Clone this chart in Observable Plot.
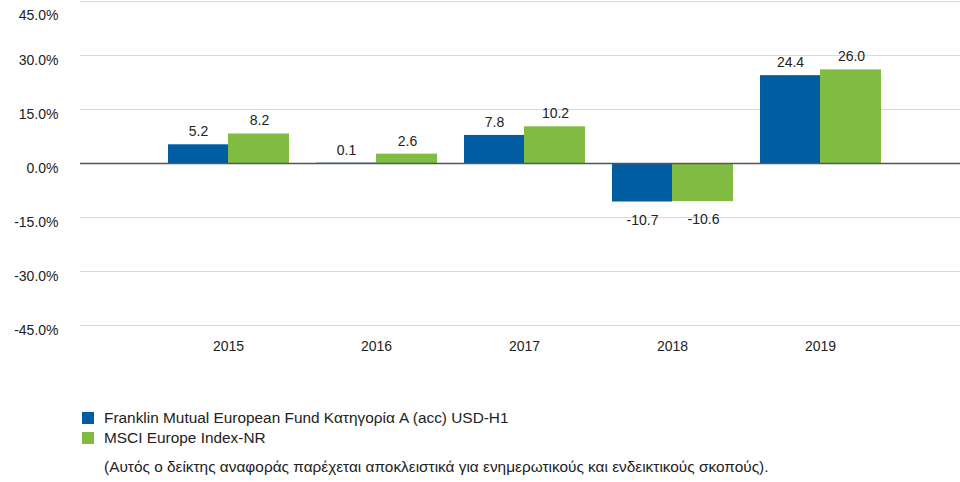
<!DOCTYPE html>
<html>
<head>
<meta charset="utf-8">
<script src="https://cdn.jsdelivr.net/npm/d3@7"></script>
<script src="https://cdn.jsdelivr.net/npm/@observablehq/plot@0.6"></script>
<style>
  html, body { margin: 0; padding: 0; background: #fff; }
  body { width: 960px; height: 482px; overflow: hidden; font-family: "Liberation Sans", Arial, sans-serif; color: #222; }
  #chart svg { display: block; }
  .legend { position: relative; margin-left: 82px; margin-top: 12px; font-size: 15.4px; }
  .row { display: flex; align-items: center; height: 20px; }
  .sw { width: 12px; height: 12px; margin-right: 10px; flex: none; }
  .note { margin-left: 22px; margin-top: 10px; font-size: 15.4px; }
</style>
</head>
<body>
<div id="chart"></div>
<div class="legend" id="legend"></div>
<script>
const years = ["2015", "2016", "2017", "2018", "2019"];
const fundValues = [5.2, 0.1, 7.8, -10.7, 24.4];
const indexValues = [8.2, 2.6, 10.2, -10.6, 26.0];
const seriesNames = ["Franklin Mutual European Fund Κατηγορία A (acc) USD-H1", "MSCI Europe Index-NR"];
const seriesColors = ["#005DA2", "#80BC41"];
const yTicks = [-45, -30, -15, 0, 15, 30];
const yTopTick = [45];
const note = "(Αυτός ο δείκτης αναφοράς παρέχεται αποκλειστικά για ενημερωτικούς και ενδεικτικούς σκοπούς).";

const fund = years.map((y, i) => ({year: y, value: fundValues[i]}));
const index = years.map((y, i) => ({year: y, value: indexValues[i]}));
const fmt = d => d.toFixed(1) + "%";
const pos = d => d.value >= 0;
const neg = d => d.value < 0;
const lbl = d => d.value.toFixed(1);

const chart = Plot.plot({
  width: 960,
  height: 396,
  marginTop: 1,
  marginBottom: 71,
  marginLeft: 80,
  marginRight: 0,
  style: {fontFamily: "Liberation Sans, Arial, sans-serif", fontSize: "14px", color: "#222"},
  x: {domain: years, range: [154, 894], padding: 0, axis: null, label: null},
  y: {domain: [-45, 45], axis: null, label: null},
  marks: [
    Plot.ruleY([-45, -30, -15, 15, 30, 45], {stroke: "#d9d9d9", strokeWidth: 1}),
    Plot.barY(fund, {x: "year", y: "value", fill: seriesColors[0], insetLeft: 14, insetRight: 74}),
    Plot.barY(index, {x: "year", y: "value", fill: seriesColors[1], insetLeft: 74, insetRight: 13}),
    Plot.ruleY([0], {stroke: "#555", strokeWidth: 1.3}),
    Plot.text(fund, {filter: pos, x: "year", y: "value", text: lbl, dx: -30, dy: -13, fill: "#222", fontSize: 14}),
    Plot.text(fund, {filter: neg, x: "year", y: "value", text: lbl, dx: -30, dy: 18, fill: "#222", fontSize: 14}),
    Plot.text(index, {filter: pos, x: "year", y: "value", text: lbl, dx: 31, dy: -13, fill: "#222", fontSize: 14}),
    Plot.text(index, {filter: neg, x: "year", y: "value", text: lbl, dx: 31, dy: 18, fill: "#222", fontSize: 14}),
    Plot.axisY(yTicks, {tickSize: 0, tickPadding: 22, tickFormat: fmt, fontSize: 14, dy: 5, fill: "#222", label: null}),
    Plot.axisY(yTopTick, {tickSize: 0, tickPadding: 22, tickFormat: fmt, fontSize: 14, dy: 14, fill: "#222", label: null}),
    Plot.axisX({tickSize: 0, tickPadding: 16, fontSize: 14, fill: "#222", label: null})
  ]
});
document.getElementById("chart").appendChild(chart);

const legend = document.getElementById("legend");
seriesNames.forEach((name, i) => {
  const row = document.createElement("div");
  row.className = "row";
  const sw = document.createElement("span");
  sw.className = "sw";
  sw.style.background = seriesColors[i];
  const t = document.createElement("span");
  t.textContent = name;
  row.appendChild(sw);
  row.appendChild(t);
  legend.appendChild(row);
});
const n = document.createElement("div");
n.className = "note";
n.textContent = note;
legend.appendChild(n);
</script>
</body>
</html>
